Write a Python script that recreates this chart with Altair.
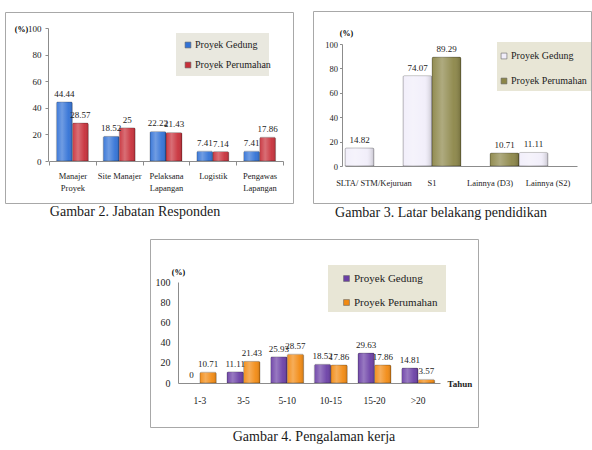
import altair as alt
import pandas as pd

# ---------- data ----------
series = ["Proyek Gedung", "Proyek Perumahan"]

# Gambar 2. Jabatan Responden
jabatan = ["Manajer\nProyek", "Site Manajer", "Pelaksana\nLapangan", "Logistik", "Pengawas\nLapangan"]
jabatan_gedung = [44.44, 18.52, 22.22, 7.41, 7.41]
jabatan_perumahan = [28.57, 25, 21.43, 7.14, 17.86]

# Gambar 3. Latar belakang pendidikan
pendidikan = ["SLTA/ STM/Kejuruan", "S1", "Lainnya (D3)", "Lainnya (S2)"]
pendidikan_gedung = [14.82, 74.07, 0, 11.11]
pendidikan_perumahan = [0, 89.29, 10.71, 0]

# Gambar 4. Pengalaman kerja
tahun = ["1-3", "3-5", "5-10", "10-15", "15-20", ">20"]
tahun_gedung = [0, 11.11, 25.93, 18.52, 29.63, 14.81]
tahun_perumahan = [10.71, 21.43, 28.57, 17.86, 17.86, 3.57]

y_ticks = [0, 20, 40, 60, 80, 100]

W, H = 592, 450
SERIF = "Liberation Serif"


def frame(cats, a, b):
    rows = []
    for c, va, vb in zip(cats, a, b):
        rows.append({"cat": c, "series": series[0], "val": va})
        rows.append({"cat": c, "series": series[1], "val": vb})
    return pd.DataFrame(rows)


shine = alt.LinearGradient(
    gradient="linear", x1=0, x2=1, y1=0, y2=0,
    stops=[
        alt.GradientStop(offset=0, color="rgba(255,255,255,0.05)"),
        alt.GradientStop(offset=0.35, color="rgba(255,255,255,0.30)"),
        alt.GradientStop(offset=0.75, color="rgba(255,255,255,0.05)"),
        alt.GradientStop(offset=1, color="rgba(0,0,0,0.18)"),
    ],
)


def panel(df, cats, colors, xr, yr, x_axis, y_axis, off_pad, legend_xy,
          legend_size, legend_gap, show_zero_label):
    x = alt.X("cat:N", sort=cats,
              scale=alt.Scale(range=xr, paddingInner=0, paddingOuter=0),
              axis=x_axis)
    xo = alt.XOffset("series:N", sort=series,
                     scale=alt.Scale(paddingInner=0, paddingOuter=off_pad))
    y = alt.Y("val:Q", scale=alt.Scale(domain=[0, 100], range=yr, nice=False),
              axis=y_axis)
    bars_df = df[df["val"] > 0]
    bars = alt.Chart(bars_df).mark_bar(
        stroke="rgba(0,0,0,0.28)", strokeWidth=0.7, cornerRadiusTopLeft=1.5,
        cornerRadiusTopRight=1.5
    ).encode(
        x=x, xOffset=xo, y=y,
        color=alt.Color(
            "series:N", sort=series,
            scale=alt.Scale(domain=series, range=colors),
            legend=alt.Legend(
                title=None, orient="none", legendX=legend_xy[0], legendY=legend_xy[1],
                symbolType="square", symbolSize=34, symbolStrokeWidth=0.6,
                symbolStrokeColor="#666", labelFont=SERIF, labelFontSize=legend_size,
                labelColor="#222", rowPadding=legend_gap, padding=0, labelOffset=2,
            ),
        ),
    )
    gloss = alt.Chart(bars_df).mark_bar(fill=shine, cornerRadiusTopLeft=1.5,
                                        cornerRadiusTopRight=1.5).encode(
        x=x, xOffset=xo, y=y)
    lab_df = df if show_zero_label else df[df["val"] > 0]
    labels = alt.Chart(lab_df).mark_text(
        font=SERIF, fontSize=9, color="#222", baseline="bottom", dy=-3
    ).encode(x=x, xOffset=xo, y=y, text=alt.Text("val:Q", format="~f"))
    return alt.layer(bars, gloss, labels)


# ---------- panel 1 ----------
p1 = panel(
    frame(jabatan, jabatan_gedung, jabatan_perumahan), jabatan,
    ["#3272d6", "#c8303a"], [49, 283], [161, 28],
    alt.Axis(orient="bottom", offset=-(H - 161), title=None, labelAngle=0,
             labelExpr="split(datum.label, '\\n')", labelFont=SERIF, labelFontSize=8.5,
             labelColor="#222", labelLineHeight=12, labelPadding=6, tickBand="extent",
             tickSize=4, tickColor="#8c8c8c", domainColor="#8c8c8c", zindex=1),
    alt.Axis(orient="left", offset=-48, values=y_ticks, grid=False, title="(%)",
             titleAngle=0, titleFont=SERIF, titleFontSize=8, titleFontWeight="bold",
             titleX=-27, titleY=29, titleAlign="center", titleBaseline="middle",
             labelFont=SERIF, labelFontSize=9, labelColor="#222", labelPadding=4,
             tickSize=3, tickColor="#8c8c8c", domainColor="#8c8c8c", zindex=1),
    0.46, (183, 40), 10, 10, False,
)

# ---------- panel 2 ----------
p2 = panel(
    frame(pendidikan, pendidikan_gedung, pendidikan_perumahan), pendidikan,
    ["#f1eefa", "#8c8648"], [345, 577], [166, 44],
    alt.Axis(orient="bottom", offset=-(H - 166), title=None, labelAngle=0,
             labelFont=SERIF, labelFontSize=8.5, labelColor="#222", labelPadding=12,
             ticks=False, domainColor="#8c8c8c", zindex=1),
    alt.Axis(orient="left", offset=-342, values=y_ticks, grid=False, title="(%)",
             titleAngle=0, titleFont=SERIF, titleFontSize=8, titleFontWeight="bold",
             titleX=4, titleY=33, titleAlign="center", titleBaseline="middle",
             labelFont=SERIF, labelFontSize=8.5, labelColor="#222", labelPadding=2,
             tickSize=2.5, tickColor="#8c8c8c", domainColor="#8c8c8c", zindex=1),
    0.0, (499, 51), 10, 15, False,
)

# ---------- panel 3 ----------
p3 = panel(
    frame(tahun, tahun_gedung, tahun_perumahan), tahun,
    ["#6b3fa6", "#f28a12"], [178, 440], [383, 282],
    alt.Axis(orient="bottom", offset=-(H - 383), title="Tahun", titleFont=SERIF,
             titleFontSize=9, titleFontWeight="bold", titleColor="#222",
             titleX=447, titleY=0, titleAlign="left", titleBaseline="middle",
             labelAngle=0, labelFont=SERIF, labelFontSize=9.5, labelColor="#222",
             labelPadding=12, ticks=False, domainColor="#8c8c8c", zindex=1),
    alt.Axis(orient="left", offset=-178, values=y_ticks, grid=False, title="(%)",
             titleAngle=0, titleFont=SERIF, titleFontSize=8, titleFontWeight="bold",
             titleX=0, titleY=272, titleAlign="center", titleBaseline="middle",
             labelFont=SERIF, labelFontSize=10, labelColor="#222", labelPadding=8,
             ticks=False, domainColor="#8c8c8c", zindex=1),
    0.32, (341, 273), 11, 12, True,
)

# ---------- frames, legend backgrounds, captions ----------
one = pd.DataFrame({"k": [0]})


def box(x0, x1, y0, y1, fill="none", stroke=None):
    kw = {"fill": fill}
    if stroke:
        kw.update(stroke=stroke, strokeWidth=1)
    return alt.Chart(one).mark_rect(**kw).encode(
        x=alt.value(x0), x2=alt.value(x1), y=alt.value(y0), y2=alt.value(y1))


def caption(text, cx, cy):
    return alt.Chart(one).mark_text(
        text=text, font=SERIF, fontSize=14, color="#1a1a1a", align="center",
        baseline="middle").encode(x=alt.value(cx), y=alt.value(cy))


decor_back = alt.layer(
    box(5.5, 293.5, 12.5, 203.5, stroke="#a8a8a8"),
    box(313.5, 591.5, 11.5, 203.5, stroke="#a8a8a8"),
    box(150.5, 478.5, 239.5, 427.5, stroke="#a8a8a8"),
    box(176, 269, 33, 76, fill="#e9e8df"),
    box(497, 591, 42, 91, fill="#e8e6d6"),
    box(328, 446, 265, 312, fill="#e8e6d6"),
)
decor_text = alt.layer(
    caption("Gambar 2. Jabatan Responden", 135, 212),
    caption("Gambar 3. Latar belakang pendidikan", 441, 213),
    caption("Gambar 4. Pengalaman kerja", 314, 437),
)

chart = alt.layer(decor_back, p1, p2, p3, decor_text).resolve_scale(
    x="independent", y="independent", xOffset="independent", color="independent"
).resolve_axis(
    x="independent", y="independent"
).resolve_legend(
    color="independent"
).properties(
    width=W, height=H, padding=0, autosize=alt.AutoSizeParams(type="none"),
    background="white",
).configure_view(stroke=None).configure_legend(
    labelFont=SERIF
).configure_axis(
    labelFont=SERIF, titleFont=SERIF
)

chart.save("out.html", embed_options={"renderer": "svg", "actions": False})
